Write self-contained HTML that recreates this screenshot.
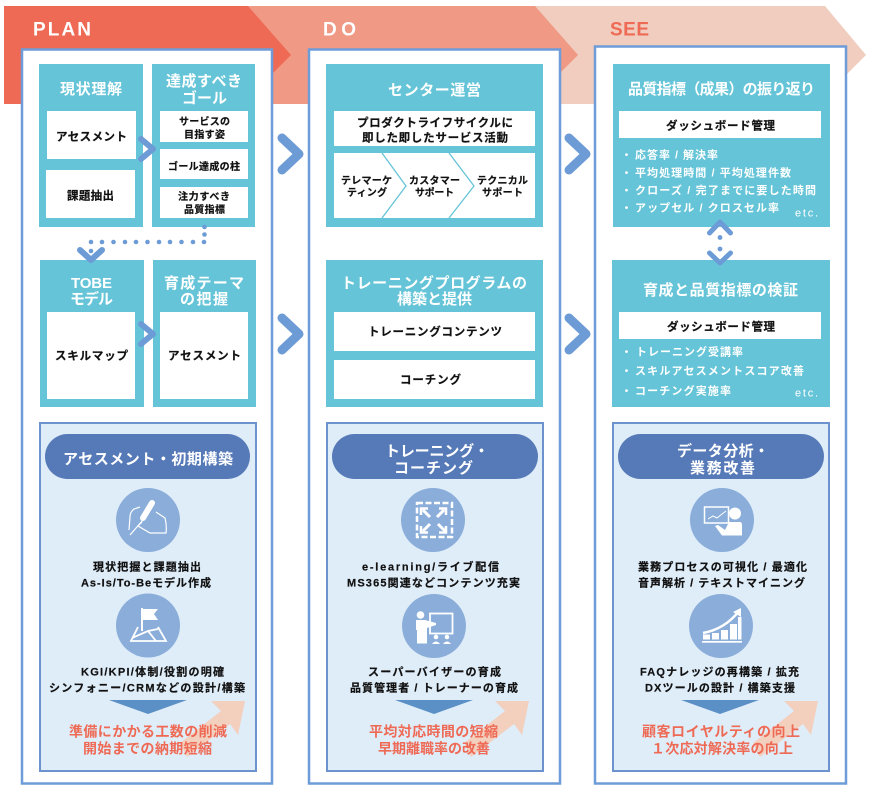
<!DOCTYPE html>
<html lang="ja"><head><meta charset="utf-8"><style>
html,body{margin:0;padding:0;background:#fff}
svg{display:block}
text{font-family:"Liberation Sans","Noto Sans CJK JP",sans-serif;font-weight:700;dominant-baseline:central;transform:translateY(1.5px)}
.w{fill:#fff}.k{fill:#111;stroke:#111;stroke-width:.2}.r{fill:#ee6a55}
.t{font-size:15px}.m{font-size:11.5px}.s{font-size:10px}.p{font-size:11px;transform:translateY(.5px)}.l text{font-size:11px;transform:translateY(.5px)}
.e{font-size:11px;font-weight:400;fill:#fff}.h{font-size:14px}.o{font-size:15px}
.c{fill:none;stroke:#6c9bd6;stroke-linecap:round;stroke-linejoin:round}
.tl{fill:#65c4d7}.wb{fill:#fff}.f{fill:#fff;stroke:#6d9cd8;stroke-width:2.5}
.pn{fill:#dfedf9;stroke:#6d93cf;stroke-width:2}.pl{fill:#5679b8}.ci{fill:#8aadda}
.ar{fill:#f3cfbe}.tr{fill:#5a90c6}
</style></head><body>
<svg width="874" height="793" viewBox="0 0 874 793" xmlns="http://www.w3.org/2000/svg">
<!-- banners -->
<polygon points="535,6 825,6 866,55 817,104 500,104" fill="#f0cdbf"/>
<polygon points="248,6 535,6 578,55 529,104 220,104" fill="#f09985"/>
<polygon points="4,6 248,6 291,55 242,104 4,104" fill="#ee6a55"/>
<text x="33" y="28.500" font-size="19" textLength="58" class="w">PLAN</text>
<text x="323" y="28.500" font-size="19" textLength="33" class="w">DO</text>
<text x="610" y="28.500" font-size="19" textLength="39" class="r">SEE</text>
<!-- frames -->
<rect class="f" x="22" y="49.500" width="250" height="734"/>
<rect class="f" x="309" y="49.500" width="251" height="734"/>
<rect class="f" x="595" y="46.500" width="251" height="737"/>
<!-- big chevrons -->
<g class="c" stroke-width="9">
<polyline points="282,138 299,154 282,170"/><polyline points="282,318 299,334 282,350"/>
<polyline points="569,138 586,154 569,170"/><polyline points="569,318 586,334 569,350"/>
</g>
<!-- PLAN teal -->
<rect class="tl" x="39" y="64" width="104" height="163"/>
<rect class="tl" x="152" y="64" width="103" height="163"/>
<rect class="wb" x="47" y="111" width="89" height="48"/>
<rect class="wb" x="46" y="170" width="89" height="48"/>
<rect class="wb" x="160" y="111" width="88" height="31"/>
<rect class="wb" x="160" y="149" width="88" height="30"/>
<rect class="wb" x="160" y="187" width="88" height="31"/>
<rect class="tl" x="40" y="260" width="104" height="147"/>
<rect class="tl" x="153" y="260" width="103" height="147"/>
<rect class="wb" x="47" y="312" width="88" height="87"/>
<rect class="wb" x="160" y="312" width="88" height="87"/>
<g class="c" stroke-width="6">
<polyline points="141,139 153,149 141,159"/><polyline points="141,324 153,334 141,344"/>
<polyline points="80,250 91,260 102,250"/>
</g>
<g fill="#6c9bd6">
<circle cx="204.500" cy="227" r="2.300"/><circle cx="204.500" cy="234.500" r="2.300"/>
<circle cx="204" cy="242" r="2.300"/><circle cx="193" cy="242" r="2.300"/><circle cx="181.500" cy="242" r="2.300"/><circle cx="170" cy="242" r="2.300"/><circle cx="159" cy="242" r="2.300"/><circle cx="147.500" cy="242" r="2.300"/><circle cx="136" cy="242" r="2.300"/><circle cx="125" cy="242" r="2.300"/><circle cx="113.500" cy="242" r="2.300"/><circle cx="102" cy="242" r="2.300"/><circle cx="91" cy="242" r="2.300"/><circle cx="91" cy="251" r="2.300"/>
</g>
<text class="t w" x="60" y="88" textLength="62">現状理解</text>
<text class="t w" x="166" y="80" textLength="76">達成すべき</text>
<text class="t w" x="182" y="97" textLength="45">ゴール</text>
<text class="m k" x="56" y="136" textLength="71">アセスメント</text>
<text class="m k" x="67" y="195" textLength="47">課題抽出</text>
<text class="s k" x="179" y="121" textLength="51">サービスの</text>
<text class="s k" x="184" y="134" textLength="41">目指す姿</text>
<text class="s k" x="168" y="166" textLength="72">ゴール達成の柱</text>
<text class="s k" x="178" y="196" textLength="52">注力すべき</text>
<text class="s k" x="184" y="209" textLength="41">品質指標</text>
<text class="t w" x="71" y="282" textLength="41">TOBE</text>
<text class="t w" x="70" y="298" textLength="43">モデル</text>
<text class="t w" x="164" y="282" textLength="80">育成テーマ</text>
<text class="t w" x="180" y="298" textLength="48">の把握</text>
<text class="m k" x="55" y="355" textLength="73">スキルマップ</text>
<text class="m k" x="168" y="355" textLength="73">アセスメント</text>
<!-- DO teal -->
<rect class="tl" x="326" y="64" width="217" height="163"/>
<rect class="wb" x="334" y="111" width="201" height="35"/>
<rect class="wb" x="334" y="153" width="201" height="65"/>
<polyline points="382,153 406,186 382,218" fill="none" stroke="#65c4d7" stroke-width="1.300"/>
<polyline points="449,153 474,186 449,218" fill="none" stroke="#65c4d7" stroke-width="1.300"/>
<rect class="tl" x="326" y="260" width="217" height="147"/>
<rect class="wb" x="334" y="312" width="201" height="39"/>
<rect class="wb" x="334" y="360" width="201" height="39"/>
<text class="t w" x="388" y="89" textLength="93">センター運営</text>
<text class="m k" x="357" y="122" textLength="156">プロダクトライフサイクルに</text>
<text class="m k" x="362" y="137" textLength="146">即した即したサービス活動</text>
<text class="s k" x="341" y="180" textLength="51">テレマーケ</text>
<text class="s k" x="347" y="192" textLength="40">ティング</text>
<text class="s k" x="409" y="180" textLength="51">カスタマー</text>
<text class="s k" x="415" y="192" textLength="39">サポート</text>
<text class="s k" x="477" y="180" textLength="51">テクニカル</text>
<text class="s k" x="482" y="192" textLength="41">サポート</text>
<text class="t w" x="341" y="282" textLength="186">トレーニングプログラムの</text>
<text class="t w" x="397" y="298" textLength="75">構築と提供</text>
<text class="m k" x="368" y="331" textLength="134">トレーニングコンテンツ</text>
<text class="m k" x="400" y="379" textLength="61">コーチング</text>
<!-- SEE teal -->
<rect class="tl" x="613" y="64" width="217" height="163"/>
<rect class="wb" x="619" y="111" width="202" height="27"/>
<rect class="tl" x="612" y="260" width="218" height="147"/>
<rect class="wb" x="619" y="312" width="202" height="27"/>
<g class="c" stroke-width="5">
<polyline points="709.500,233 720,222 730.500,233"/><polyline points="709.500,253 720,263 730.500,253"/>
</g>
<circle cx="720" cy="237.500" r="2.400" fill="#6c9bd6"/><circle cx="720" cy="249" r="2.400" fill="#6c9bd6"/>
<text class="t w" x="628" y="88" textLength="187">品質指標（成果）の振り返り</text>
<text class="m k" x="666" y="125" textLength="109">ダッシュボード管理</text>
<g class="l w">
<text x="621" y="155">・</text><text x="635" y="155" textLength="83">応答率 / 解決率</text>
<text x="621" y="173">・</text><text x="635" y="173" textLength="156">平均処理時間 / 平均処理件数</text>
<text x="621" y="190.500">・</text><text x="635" y="190.500" textLength="181">クローズ / 完了までに要した時間</text>
<text x="621" y="208">・</text><text x="635" y="208" textLength="144">アップセル / クロスセル率</text>
</g>
<text class="e" x="795" y="212" textLength="23">etc.</text>
<text class="t w" x="643" y="289" textLength="155">育成と品質指標の検証</text>
<text class="m k" x="667" y="326" textLength="108">ダッシュボード管理</text>
<g class="l w">
<text x="621" y="352">・</text><text x="636" y="352" textLength="107">トレーニング受講率</text>
<text x="621" y="371">・</text><text x="635" y="371" textLength="169">スキルアセスメントスコア改善</text>
<text x="621" y="391">・</text><text x="635" y="391" textLength="96">コーチング実施率</text>
</g>
<text class="e" x="795" y="392" textLength="23">etc.</text>
<!-- panels -->
<rect class="pn" x="40" y="423" width="216" height="348"/>
<rect class="pn" x="327" y="423" width="216" height="348"/>
<rect class="pn" x="613" y="423" width="216" height="348"/>
<rect class="pl" x="45" y="434" width="205" height="45" rx="22.500"/>
<rect class="pl" x="332" y="434" width="206" height="45" rx="22.500"/>
<rect class="pl" x="618" y="434" width="206" height="45" rx="22.500"/>
<text class="o w" x="63" y="458" textLength="170">アセスメント・初期構築</text>
<text class="o w" x="385" y="450" textLength="104">トレーニング・</text>
<text class="o w" x="394" y="467" textLength="79">コーチング</text>
<text class="o w" x="677" y="450" textLength="92">データ分析・</text>
<text class="o w" x="690" y="467" textLength="65">業務改善</text>
<!-- icons -->
<circle class="ci" cx="148" cy="520" r="32"/><circle class="ci" cx="148" cy="625.500" r="32"/>
<circle class="ci" cx="433" cy="520" r="32"/><circle class="ci" cx="434" cy="626" r="32"/>
<circle class="ci" cx="722" cy="520" r="32"/><circle class="ci" cx="721" cy="626" r="32"/>
<!-- pen -->
<line x1="152" y1="503" x2="143" y2="518" stroke="#fff" stroke-width="6" stroke-linecap="round"/>
<path d="M143,520 L130,535 M140,507 L134,509 Q130,512 130,517 L129,530 M156,512 L165,518 Q167,526 166,533 L150,533 L138,526 L142,522" fill="none" stroke="#fff" stroke-width="1.200"/>
<!-- flag/map -->
<line x1="142" y1="608" x2="142" y2="631" stroke="#fff" stroke-width="2"/>
<polygon points="142,609 158,609 154,614 158,620 142,620" fill="#fff"/>
<path d="M138,627 L131,641 L166,641 L158,627 M132,638 L148,631 L156,641 M148,631 L158,629" fill="none" stroke="#fff" stroke-width="1.800"/>
<!-- expand -->
<rect x="417" y="503" width="35" height="34" fill="none" stroke="#fff" stroke-width="2.500" stroke-dasharray="6 2.500"/>
<g fill="none" stroke="#fff" stroke-width="3"><path d="M423,510 L430,517 M444,510 L437,517 M423,531 L430,524 M445,531 L438,524"/>
<path d="M421,515 V508.500 H428 M446,515 V508.500 H439 M421,526 V532.500 H428 M446,526 V532.500 H439" stroke-width="2.500"/></g>
<!-- teacher -->
<circle cx="420.500" cy="615" r="3.800" fill="#fff"/>
<path d="M416,620 H425 L436,623 V625 L427,628 V643.500 H417 V630 H416 Z" fill="#fff"/>
<rect x="430" y="613.500" width="22.500" height="20" fill="none" stroke="#fff" stroke-width="1.800"/>
<circle cx="436" cy="637" r="2.300" fill="#fff"/><circle cx="447" cy="637" r="2.300" fill="#fff"/>
<path d="M432,644 Q436,639 440,644 Z M443,644 Q447,639 451,644 Z" fill="#fff"/>
<!-- analysis -->
<rect x="704.500" y="507" width="24" height="16" fill="none" stroke="#fff" stroke-width="1.500"/>
<polyline points="708,519 713,516 717,518 722,514 726,511" fill="none" stroke="#fff" stroke-width="1"/>
<circle cx="735" cy="513.500" r="6" fill="#fff"/>
<path d="M715,526 L718,525 L725,530 L729,522 H740 Q742,522 742,525 V535.500 H722 Z" fill="#fff"/>
<!-- chart -->
<path d="M703,633 Q725,629 739,611" fill="none" stroke="#fff" stroke-width="2.500"/>
<polygon points="741,608 741,617 733,612" fill="#fff"/>
<g fill="#fff"><rect x="703" y="634.500" width="7" height="5"/><rect x="712" y="633" width="7" height="6.500"/><rect x="721" y="630" width="7" height="9.500"/><rect x="730" y="624" width="7" height="15.500"/><rect x="738" y="617" width="3.500" height="22.500"/><rect x="702" y="641" width="40" height="1.700"/></g>
<!-- triangles & arrows -->
<polygon class="ar" points="245,701 238,735 230,724 187,757 180,743 221,711 211,701"/>
<polygon class="ar" points="529,701 522,735 514,724 471,757 464,743 505,711 495,701"/>
<polygon class="ar" points="818,701 811,735 803,724 760,757 753,743 794,711 784,701"/>
<polygon class="tr" points="109,700 187,700 148,714"/>
<polygon class="tr" points="395,700 473,700 434,714"/>
<polygon class="tr" points="681,700 759,700 720,714"/>
<!-- panel text -->
<text class="p k" x="93" y="567" textLength="108">現状把握と課題抽出</text>
<text class="p k" x="81" y="583" textLength="130">As-Is/To-Beモデル作成</text>
<text class="p k" x="81" y="672" textLength="143">KGI/KPI/体制/役割の明確</text>
<text class="p k" x="49" y="688" textLength="196">シンフォニー/CRMなどの設計/構築</text>
<text class="h r" x="69" y="730" textLength="158">準備にかかる工数の削減</text>
<text class="h r" x="83" y="747" textLength="129">開始までの納期短縮</text>
<text class="p k" x="362" y="567" textLength="137">e-learning/ライブ配信</text>
<text class="p k" x="347" y="583" textLength="173">MS365関連などコンテンツ充実</text>
<text class="p k" x="368" y="672" textLength="133">スーパーバイザーの育成</text>
<text class="p k" x="350" y="688" textLength="168">品質管理者 / トレーナーの育成</text>
<text class="h r" x="369" y="730" textLength="129">平均対応時間の短縮</text>
<text class="h r" x="378" y="747" textLength="112">早期離職率の改善</text>
<text class="p k" x="638" y="567" textLength="169">業務プロセスの可視化 / 最適化</text>
<text class="p k" x="638" y="583" textLength="167">音声解析 / テキストマイニング</text>
<text class="p k" x="640" y="672" textLength="159">FAQナレッジの再構築 / 拡充</text>
<text class="p k" x="645" y="688" textLength="150">DXツールの設計 / 構築支援</text>
<text class="h r" x="642" y="730" textLength="158">顧客ロイヤルティの向上</text>
<text class="h r" x="651" y="747" textLength="142">１次応対解決率の向上</text>
</svg>
</body></html>
